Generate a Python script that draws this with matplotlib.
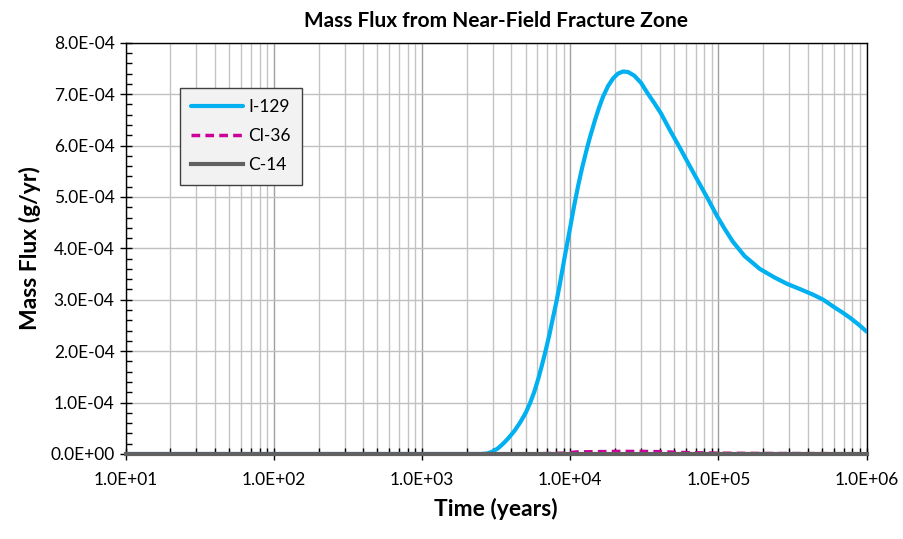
import matplotlib
matplotlib.use("Agg")
import matplotlib.pyplot as plt
from matplotlib.ticker import FuncFormatter, LogLocator, MultipleLocator

plt.rcParams['font.family'] = ['Lato', 'DejaVu Sans']

# I-129 mass flux (g/yr)
t_i129 = [10, 100, 1000, 2000, 2500, 2750, 3000, 3250, 3520, 3800, 4200, 4580, 5000, 5350,
          5700, 6060, 6400, 6750, 7200, 7640, 8100, 8520, 9200, 10000, 10600, 11300, 12000,
          12970, 13600, 14700, 15600, 16630, 18000, 19500, 21000, 22700, 24500, 27000, 30000,
          33000, 37000, 41000, 47000, 55000, 64000, 75000, 86000, 97700, 110000, 125000,
          150000, 190000, 240000, 290000, 360000, 434000, 510000, 593000, 680000, 771000,
          880000, 1000000]
f_i129 = [0, 0, 0, 0, 0, 0.01e-4, 0.05e-4, 0.11e-4, 0.2e-4, 0.3e-4, 0.45e-4, 0.61e-4, 0.8e-4, 0.99e-4,
          1.2e-4, 1.45e-4, 1.7e-4, 1.96e-4, 2.3e-4, 2.65e-4, 2.99e-4, 3.32e-4, 3.86e-4, 4.42e-4, 4.82e-4,
          5.22e-4, 5.56e-4, 5.95e-4, 6.17e-4, 6.5e-4, 6.73e-4, 6.95e-4, 7.16e-4, 7.31e-4, 7.4e-4, 7.44e-4,
          7.43e-4, 7.36e-4, 7.22e-4, 7.03e-4, 6.82e-4, 6.62e-4, 6.3e-4, 5.95e-4, 5.6e-4, 5.24e-4, 4.93e-4,
          4.63e-4, 4.38e-4, 4.13e-4, 3.85e-4, 3.6e-4, 3.43e-4, 3.31e-4, 3.2e-4, 3.1e-4, 3.0e-4, 2.87e-4,
          2.76e-4, 2.65e-4, 2.52e-4, 2.38e-4]

# Cl-36 mass flux (g/yr)
t_cl36 = [10, 1000, 5000, 9000, 11000, 20000, 30000, 40000, 55000, 100000, 200000, 1000000]
f_cl36 = [0, 0, 0, 1.5e-6, 4e-6, 5e-6, 5e-6, 4.5e-6, 3e-6, 1.5e-6, 1e-6, 0.5e-6]

# C-14 mass flux (g/yr)
t_c14 = [10, 100, 1000, 10000, 100000, 1000000]
f_c14 = [0, 0, 0, 0, 0, 0]

W, H = 904, 539
fig = plt.figure(figsize=(W / 100, H / 100), dpi=100)
ax = fig.add_axes([125.7 / W, 1 - 454 / H, (866.7 - 125.7) / W, (454 - 42.7) / H])

ax.plot(t_i129, f_i129, color='#00B0F0', lw=3, label='I-129', zorder=3,
        solid_capstyle='round', solid_joinstyle='round')
ax.plot(t_cl36, f_cl36, color='#CC0099', lw=2.5, ls=(0, (2.5, 1.5)), label='Cl-36', zorder=3)
ax.plot(t_c14, f_c14, color='#616161', lw=3, label='C-14', zorder=4, clip_on=False)

ax.set_xscale('log')
ax.set_xlim(10, 1e6)
ax.set_ylim(0, 8e-4)

fmt = FuncFormatter(lambda v, p: f"{v:.1E}")
ax.xaxis.set_major_locator(LogLocator(base=10, numticks=10))
ax.xaxis.set_minor_locator(LogLocator(base=10, subs=range(2, 10), numticks=20))
ax.xaxis.set_major_formatter(fmt)
ax.xaxis.set_minor_formatter(FuncFormatter(lambda v, p: ''))
ax.yaxis.set_major_locator(MultipleLocator(1e-4))
ax.yaxis.set_minor_locator(MultipleLocator(2e-5))
ax.yaxis.set_major_formatter(fmt)

ax.grid(which='major', axis='x', color='#a0a0a0', lw=1)
ax.grid(which='minor', axis='x', color='#c4c4c4', lw=1)
ax.grid(which='major', axis='y', color='#c0c0c0', lw=1)
ax.set_axisbelow(True)

ax.tick_params(which='major', direction='inout', length=8, width=1, labelsize=12.5, color='black')
ax.tick_params(which='minor', direction='in', length=4, width=1, color='black')
ax.tick_params(axis='x', which='major', pad=9)
ax.tick_params(axis='y', which='major', pad=4)
for s in ax.spines.values():
    s.set_color('black')
    s.set_linewidth(1)

ax.set_title('Mass Flux from Near-Field Fracture Zone', fontsize=15, fontweight='bold', pad=11)
ax.set_xlabel('Time (years)', fontsize=16.5, fontweight='bold', labelpad=7)
ax.set_ylabel('Mass Flux (g/yr)', fontsize=16.5, fontweight='bold', labelpad=7)

leg = ax.legend(loc='upper left', bbox_to_anchor=(0.073, 0.89), fontsize=12.5,
                frameon=True, fancybox=False, facecolor='#f2f2f2', edgecolor='#404040',
                framealpha=1, handlelength=3.0, labelspacing=0.75, borderpad=0.65,
                handletextpad=0.3, borderaxespad=0)
leg.get_frame().set_linewidth(1)

fig.savefig('out.png', dpi=100)
